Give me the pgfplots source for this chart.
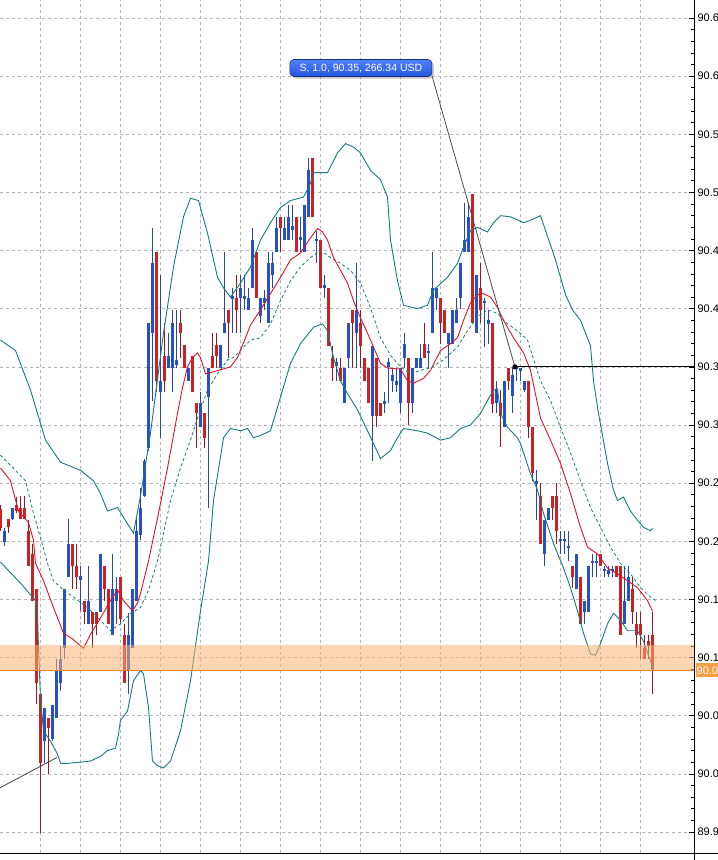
\documentclass[border=0pt]{standalone}
\usepackage{pgfplots}
\pgfplotsset{compat=1.18}
\usepackage{pgfplotstable}
\usepackage{fontspec}
\setmainfont{Liberation Sans}
\usetikzlibrary{shadows}

\definecolor{candleblue}{RGB}{38,80,200}
\definecolor{wickblue}{RGB}{40,70,170}
\definecolor{candlered}{RGB}{205,32,32}
\definecolor{wickred}{RGB}{140,28,34}
\definecolor{bandteal}{RGB}{22,122,128}
\definecolor{maline}{RGB}{222,18,40}
\definecolor{gridgray}{RGB}{180,180,180}
\definecolor{zonefill}{RGB}{250,180,115}
\definecolor{zoneline}{RGB}{232,134,48}
\definecolor{zonetag}{RGB}{246,160,70}
\definecolor{tagtop}{RGB}{80,130,250}
\definecolor{tagbot}{RGB}{35,85,220}

% i = candle number, o h l c = open high low close
\pgfplotstableread{
i o h l c
0 90.228 90.231 90.209 90.211
1 90.199 90.211 90.196 90.209
2 90.219 90.219 90.207 90.212
3 90.219 90.229 90.218 90.229
4 90.231 90.238 90.224 90.226
5 90.229 90.239 90.219 90.219
6 90.229 90.239 90.219 90.219
7 90.209 90.218 90.179 90.179
8 90.189 90.198 90.149 90.149
9 90.159 90.159 90.060 90.078
10 90.069 90.069 89.949 90.009
11 90.028 90.057 90.009 90.057
12 90.048 90.048 90.000 90.039
13 90.030 90.059 90.028 90.059
14 90.048 90.099 90.048 90.089
15 90.078 90.110 90.071 90.099
16 90.108 90.159 90.099 90.159
17 90.169 90.219 90.169 90.198
18 90.198 90.198 90.159 90.179
19 90.179 90.198 90.159 90.169
20 90.167 90.179 90.140 90.170
21 90.149 90.149 90.129 90.139
22 90.129 90.179 90.129 90.149
23 90.139 90.139 90.108 90.129
24 90.139 90.139 90.119 90.129
25 90.139 90.189 90.139 90.189
26 90.179 90.179 90.149 90.159
27 90.159 90.159 90.129 90.129
28 90.119 90.189 90.119 90.159
29 90.149 90.169 90.129 90.159
30 90.169 90.169 90.129 90.133
31 90.119 90.129 90.078 90.078
32 90.089 90.138 90.069 90.119
33 90.108 90.159 90.108 90.159
34 90.149 90.220 90.149 90.209
35 90.205 90.246 90.201 90.229
36 90.239 90.271 90.238 90.269
37 90.280 90.388 90.278 90.388
38 90.379 90.469 90.321 90.439
39 90.449 90.449 90.328 90.338
40 90.328 90.429 90.289 90.338
41 90.359 90.388 90.328 90.338
42 90.349 90.379 90.349 90.359
43 90.349 90.399 90.328 90.388
44 90.352 90.399 90.349 90.356
45 90.388 90.399 90.358 90.379
46 90.369 90.369 90.349 90.349
47 90.338 90.349 90.338 90.349
48 90.359 90.359 90.328 90.328
49 90.319 90.319 90.280 90.310
50 90.298 90.328 90.298 90.319
51 90.310 90.310 90.280 90.289
52 90.324 90.349 90.229 90.349
53 90.359 90.379 90.349 90.349
54 90.369 90.379 90.349 90.359
55 90.349 90.369 90.349 90.369
56 90.379 90.449 90.379 90.388
57 90.399 90.399 90.358 90.388
58 90.408 90.418 90.379 90.411
59 90.409 90.429 90.379 90.399
60 90.409 90.429 90.379 90.418
61 90.408 90.429 90.399 90.411
62 90.399 90.418 90.399 90.409
63 90.418 90.469 90.418 90.459
64 90.449 90.449 90.409 90.409
65 90.394 90.409 90.388 90.409
66 90.405 90.416 90.399 90.409
67 90.388 90.449 90.388 90.439
68 90.429 90.449 90.418 90.439
69 90.449 90.479 90.449 90.469
70 90.479 90.479 90.449 90.469
71 90.459 90.479 90.459 90.469
72 90.459 90.489 90.459 90.479
73 90.468 90.489 90.459 90.471
74 90.479 90.479 90.449 90.449
75 90.459 90.479 90.449 90.462
76 90.449 90.489 90.449 90.489
77 90.479 90.530 90.479 90.519
78 90.530 90.530 90.479 90.479
79 90.458 90.467 90.439 90.460
80 90.459 90.459 90.418 90.418
81 90.418 90.429 90.409 90.420
82 90.418 90.418 90.368 90.368
83 90.358 90.368 90.338 90.349
84 90.351 90.358 90.338 90.354
85 90.349 90.358 90.338 90.338
86 90.319 90.349 90.319 90.349
87 90.358 90.388 90.349 90.388
88 90.399 90.399 90.349 90.388
89 90.379 90.439 90.349 90.399
90 90.388 90.399 90.349 90.368
91 90.358 90.358 90.338 90.338
92 90.349 90.349 90.319 90.319
93 90.308 90.368 90.269 90.368
94 90.358 90.358 90.298 90.308
95 90.319 90.319 90.308 90.308
96 90.318 90.328 90.310 90.321
97 90.350 90.358 90.319 90.354
98 90.338 90.349 90.328 90.343
99 90.334 90.349 90.328 90.338
100 90.319 90.349 90.310 90.349
101 90.358 90.379 90.349 90.370
102 90.358 90.358 90.300 90.319
103 90.319 90.349 90.310 90.349
104 90.349 90.358 90.349 90.358
105 90.349 90.370 90.349 90.358
106 90.370 90.388 90.358 90.358
107 90.362 90.370 90.349 90.364
108 90.379 90.449 90.379 90.418
109 90.409 90.418 90.399 90.418
110 90.409 90.409 90.370 90.388
111 90.399 90.399 90.379 90.379
112 90.370 90.379 90.349 90.379
113 90.370 90.399 90.370 90.399
114 90.388 90.409 90.388 90.399
115 90.409 90.439 90.400 90.439
116 90.449 90.491 90.449 90.459
117 90.449 90.491 90.449 90.479
118 90.499 90.499 90.388 90.388
119 90.379 90.429 90.379 90.429
120 90.418 90.439 90.388 90.399
121 90.405 90.409 90.367 90.407
122 90.387 90.399 90.370 90.390
123 90.388 90.388 90.310 90.318
124 90.319 90.338 90.310 90.330
125 90.319 90.330 90.281 90.308
126 90.298 90.338 90.298 90.338
127 90.349 90.349 90.330 90.338
128 90.325 90.349 90.310 90.343
129 90.348 90.350 90.338 90.350
130 90.346 90.349 90.338 90.349
131 90.330 90.338 90.328 90.338
132 90.338 90.338 90.289 90.298
133 90.298 90.298 90.252 90.259
134 90.249 90.261 90.218 90.252
135 90.239 90.250 90.198 90.198
136 90.189 90.218 90.179 90.218
137 90.218 90.229 90.218 90.229
138 90.239 90.239 90.218 90.229
139 90.239 90.250 90.198 90.209
140 90.200 90.209 90.189 90.202
141 90.200 90.209 90.189 90.202
142 90.194 90.209 90.183 90.196
143 90.179 90.179 90.160 90.169
144 90.159 90.189 90.159 90.189
145 90.169 90.169 90.129 90.129
146 90.139 90.149 90.129 90.149
147 90.139 90.179 90.139 90.179
148 90.181 90.189 90.169 90.183
149 90.181 90.189 90.169 90.183
150 90.189 90.189 90.179 90.179
151 90.174 90.179 90.169 90.176
152 90.172 90.179 90.169 90.175
153 90.174 90.179 90.169 90.176
154 90.179 90.179 90.169 90.169
155 90.179 90.179 90.119 90.119
156 90.129 90.179 90.129 90.149
157 90.149 90.179 90.149 90.169
158 90.159 90.169 90.129 90.139
159 90.129 90.139 90.108 90.119
160 90.129 90.139 90.099 90.119
161 90.108 90.119 90.099 90.099
162 90.114 90.119 90.099 90.110
163 90.119 90.139 90.069 90.089
}\candles

\begin{document}
\begin{tikzpicture}
\useasboundingbox (0,0) rectangle (718pt,860pt);
\clip (0,0) rectangle (718pt,860pt);
\begin{axis}[
  at={(0pt,7pt)}, anchor=south west,
  width=694pt, height=853pt, scale only axis,
  xmin=-0.125, xmax=173.375, ymin=89.9319, ymax=90.6655,
  axis x line*=bottom, axis y line*=right,
  axis line style={black, line width=0.8pt},
  xtick={10,20,...,160}, xticklabels={},
  ytick={89.95,90.00,90.05,90.10,90.15,90.20,90.25,90.30,90.35,90.40,90.45,90.50,90.55,90.60,90.65},
  yticklabels={89.9,90.0,90.0,90.1,90.1,90.2,90.2,90.3,90.3,90.4,90.4,90.5,90.5,90.6,90.6},
  minor y tick num=4,
  grid=major,
  major grid style={gridgray, dash pattern=on 3pt off 3pt, line width=0.6pt},
  tick align=inside,
  major tick length=5pt, minor tick length=3pt,
  x tick style={draw=none},
  y tick style={black, line width=0.6pt},
  yticklabel style={font=\fontsize{11}{13}\selectfont, text=black},
  clip=false,
]
% wicks and bodies, rising candles
\addplot[wickblue, line width=1pt, -, quiver={u=0, v={\thisrow{h}-\thisrow{l}}},
  restrict expr to domain={\thisrow{c}-\thisrow{o}}{0.0001:1}] table[x=i, y=l] {\candles};
\addplot[candleblue, line width=3pt, -, quiver={u=0, v={\thisrow{c}-\thisrow{o}}},
  restrict expr to domain={\thisrow{c}-\thisrow{o}}{0.0001:1}] table[x=i, y=o] {\candles};
% falling candles
\addplot[wickred, line width=1pt, -, quiver={u=0, v={\thisrow{h}-\thisrow{l}}},
  restrict expr to domain={\thisrow{c}-\thisrow{o}}{-1:0}] table[x=i, y=l] {\candles};
\addplot[candlered, line width=3pt, -, quiver={u=0, v={\thisrow{c}-\thisrow{o}}},
  restrict expr to domain={\thisrow{c}-\thisrow{o}}{-1:0}] table[x=i, y=o] {\candles};

% upper band
\addplot[bandteal, line width=0.9pt] coordinates {
(0,90.373) (3.75,90.364) (7.5,90.330) (11.25,90.287) (15,90.268) (20,90.261)
(23.25,90.252) (25,90.241) (26.75,90.226) (29.25,90.229) (31.75,90.215) (33.25,90.207)
(35,90.239) (37.5,90.293) (40.75,90.379) (43.25,90.436) (45.75,90.479) (47.5,90.495)
(49.5,90.493) (51.75,90.465) (54.25,90.427) (55.75,90.418) (57.5,90.410) (60,90.422)
(62.5,90.436) (65,90.459) (67.5,90.474) (70,90.487) (72.5,90.493) (75.75,90.496)
(77.5,90.508) (78.25,90.517) (81.75,90.517) (84.25,90.534) (86.25,90.542) (88.25,90.539)
(90,90.534) (92.5,90.519) (95,90.511) (96.75,90.496) (97.5,90.459) (99.25,90.424)
(100.75,90.403) (104.25,90.400) (106.75,90.403) (108.25,90.416) (111.75,90.427)
(114.25,90.439) (115.75,90.453) (117.5,90.467) (119.25,90.470) (121.75,90.466)
(123.25,90.474) (125,90.480) (127.5,90.479) (130.75,90.474) (132.5,90.476) (135,90.480)
(138.75,90.442) (141.25,90.412) (143,90.399) (145,90.390) (147.5,90.368) (148.25,90.338)
(149.5,90.310) (151.75,90.267) (153.25,90.244) (154.25,90.235) (155.75,90.238)
(157.5,90.226) (159.25,90.218) (160.75,90.212) (162.5,90.209) (163,90.211)
};
% lower band
\addplot[bandteal, line width=0.9pt] coordinates {
(0,90.182) (5,90.164) (8.75,90.149) (9.25,90.138) (9.5,90.108) (10,90.065) (10.75,90.037)
(12.5,90.028) (14.25,90.017) (15,90.009) (16.75,90.009) (20,90.010) (22.5,90.011)
(25,90.015) (26.75,90.020) (28.75,90.022) (29.5,90.034) (30,90.046) (31.75,90.054)
(33.25,90.080) (35,90.089) (35.75,90.086) (37,90.057) (38,90.011) (39.25,90.007)
(40.75,90.005) (42.5,90.011) (45,90.037) (47.5,90.080) (50,90.140) (52,90.183)
(53.25,90.235) (55.75,90.289) (57.5,90.297) (60,90.295) (61.75,90.297) (63.25,90.289)
(65,90.291) (67.5,90.295) (70,90.324) (72.5,90.353) (75,90.370) (78.25,90.384)
(80.5,90.387) (81.75,90.381) (83.25,90.358) (85,90.338) (86.75,90.327) (89.25,90.313)
(91.75,90.295) (93.25,90.284) (95,90.271) (97.5,90.278) (99.25,90.289) (100.75,90.297)
(104.25,90.295) (106.75,90.293) (110,90.287) (112.5,90.289) (115,90.297) (117.5,90.300)
(120,90.310) (121.75,90.321) (123.25,90.330) (124.25,90.331) (125,90.310) (126.75,90.298)
(129.25,90.289) (130,90.284) (132.5,90.258) (134.25,90.244) (135.75,90.224)
(138.25,90.198) (140.75,90.177) (142.5,90.160) (144.25,90.140) (145.75,90.121)
(147.5,90.103) (148.75,90.102) (150,90.112) (151.75,90.129) (153.25,90.138) (155,90.132)
(156.75,90.123) (159.25,90.123) (160.75,90.114) (162.5,90.097) (163.25,90.089)
};
% middle band, dashed
\addplot[bandteal, line width=0.8pt, dash pattern=on 3pt off 2.5pt] coordinates {
(0,90.274) (3.75,90.261) (6.25,90.252) (8.25,90.224) (10,90.203) (11.75,90.181)
(13.25,90.166) (15.75,90.158) (18.25,90.152) (21.75,90.143) (25,90.132) (27.5,90.123)
(30,90.129) (32.5,90.138) (35,90.143) (37,90.158) (39.25,90.183) (42.5,90.235)
(45,90.263) (47.5,90.287) (49.25,90.306) (51.75,90.330) (54.25,90.344) (56.75,90.356)
(58.25,90.358) (60.75,90.367) (62.5,90.373) (65,90.375) (67.5,90.387) (70,90.407)
(72.5,90.424) (75,90.436) (77.5,90.444) (80,90.450) (82.5,90.444) (85,90.439)
(87.5,90.433) (90,90.422) (92.5,90.401) (95,90.375) (97.5,90.360) (100,90.350)
(102.5,90.344) (105,90.347) (107.5,90.349) (110.75,90.356) (114.25,90.367)
(116.75,90.381) (119.25,90.393) (121.75,90.399) (124.25,90.396) (126.75,90.387)
(129.25,90.381) (131.75,90.373) (135,90.338) (137.5,90.321) (140,90.298) (142.5,90.276)
(145,90.252) (147.5,90.229) (150,90.212) (152.5,90.195) (155,90.181) (157.5,90.172)
(160,90.160) (162.5,90.152) (163.75,90.149)
};
% moving average
\addplot[maline, line width=0.9pt] coordinates {
(0,90.263) (2.5,90.252) (4.5,90.226) (7,90.216) (8.25,90.201) (8.75,90.181) (10.75,90.166)
(13.25,90.143) (15.75,90.121) (18,90.116) (20.75,90.108) (22.5,90.120) (25,90.134)
(27.5,90.149) (29.25,90.158) (30.75,90.149) (31.75,90.145) (33,90.140) (34.25,90.147)
(35,90.155) (37,90.183) (39.5,90.224) (41.75,90.263) (44.25,90.310) (45.5,90.332)
(46.75,90.350) (48,90.358) (49.25,90.362) (50,90.358) (51.25,90.344) (52.5,90.345)
(54.5,90.347) (57.5,90.350) (59.25,90.358) (61.25,90.375) (62.5,90.386) (65,90.399)
(67.5,90.413) (70,90.427) (72.5,90.442) (75,90.448) (77.5,90.461) (79.25,90.469)
(80.5,90.466) (81.75,90.459) (83.25,90.444) (85,90.433) (86.75,90.422) (88.25,90.407)
(90,90.392) (91.75,90.379) (93.25,90.367) (95,90.353) (96.75,90.349) (100,90.348)
(101.75,90.338) (103.25,90.336) (105.75,90.340) (107.5,90.347) (110,90.364)
(112.5,90.370) (114.25,90.375) (115.75,90.390) (117.5,90.405) (119.25,90.412)
(120.75,90.413) (122.5,90.410) (124.25,90.401) (125.75,90.390) (128.25,90.375)
(130.75,90.362) (132.5,90.347) (135,90.306) (137.5,90.287) (140,90.267) (142.5,90.241)
(145,90.212) (146.75,90.195) (149.25,90.189) (151.75,90.177) (154.25,90.172)
(156.75,90.166) (159.25,90.160) (161.75,90.149) (163,90.140)
};

% price zone and current price
\fill[zonefill, opacity=0.55] (axis cs:-0.125,90.0893) rectangle (axis cs:173.375,90.1108);
\draw[zoneline, line width=1pt] (axis cs:-0.125,90.089) -- (axis cs:173.375,90.089);
\node[fill=zonetag, text=white, anchor=west, inner xsep=1pt, inner ysep=0pt,
  minimum width=23pt, minimum height=14pt, align=left, text width=21pt,
  font=\fontsize{11}{13}\selectfont] at ([xshift=1.5pt]axis cs:173.375,90.089) {90.0};

% drawn objects
\draw[black!75, line width=0.8pt] (axis cs:-0.125,89.988) -- (axis cs:14.1,90.014);
\draw[black!70, line width=0.8pt] (axis cs:107.9,90.600) -- (axis cs:128.6,90.350);
\draw[black, line width=0.8pt] (axis cs:128.6,90.350) -- (axis cs:173.375,90.350);
\fill[black] (axis cs:128.6,90.350) circle (2.6pt);
\node[rounded corners=4pt, draw=tagbot!60!black, line width=0.6pt, top color=tagtop, bottom color=tagbot,
  text=white, minimum width=142pt, minimum height=17pt, inner sep=0pt,
  font=\fontsize{10.5}{12}\selectfont,
  drop shadow={shadow xshift=2pt, shadow yshift=-2pt, opacity=0.45}]
  at (axis cs:90.1,90.607) {S, 1.0, 90.35, 266.34 USD};
\end{axis}
\draw[black, line width=0.8pt] (694pt,7pt) -- (718pt,7pt);
\draw[black, line width=0.8pt] (694pt,7pt) -- (694pt,0pt);
\end{tikzpicture}
\end{document}
